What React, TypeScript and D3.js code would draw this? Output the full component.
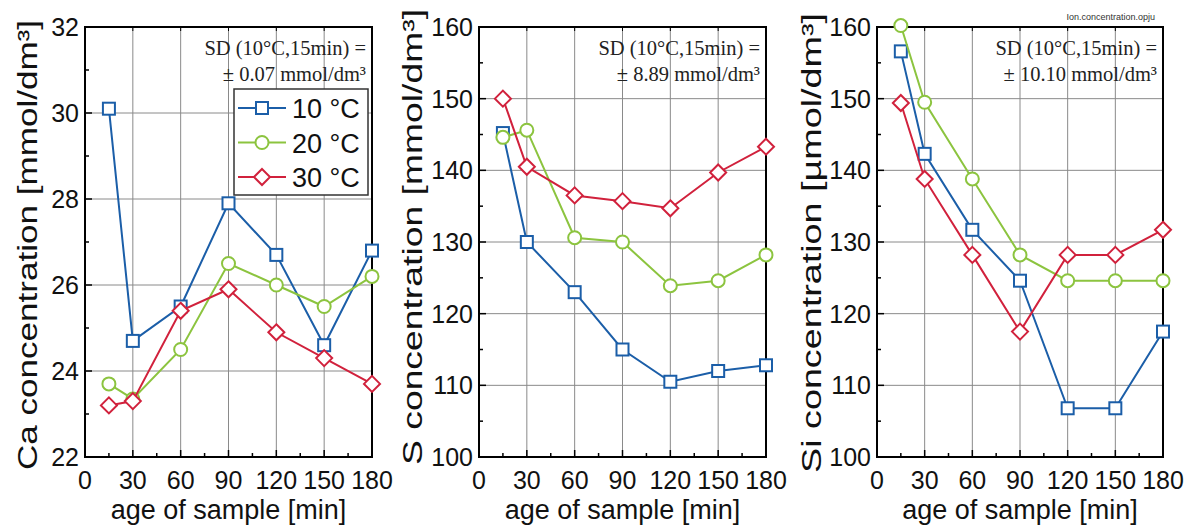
import React from "react";
import * as d3 from "d3";

const ages = [15, 30, 60, 90, 120, 150, 180];
const seriesNames = ["10 °C", "20 °C", "30 °C"];
const seriesColors = ["#1b5ea8", "#8cc43f", "#d1213c"];
const markerKinds = ["square", "circle", "diamond"];

const caT10 = [30.1, 24.7, 25.5, 27.9, 26.7, 24.6, 26.8];
const caT20 = [23.7, 23.35, 24.5, 26.5, 26.0, 25.5, 26.2];
const caT30 = [23.2, 23.3, 25.4, 25.9, 24.9, 24.3, 23.7];

const sT10 = [145.2, 130.0, 123.0, 115.0, 110.5, 112.0, 112.8];
const sT20 = [144.6, 145.6, 130.6, 130.0, 123.9, 124.6, 128.2];
const sT30 = [150.0, 140.5, 136.5, 135.7, 134.7, 139.7, 143.3];

const siT10 = [156.6, 142.3, 131.7, 124.6, 106.8, 106.8, 117.5];
const siT20 = [160.2, 149.5, 138.8, 128.2, 124.6, 124.6, 124.6];
const siT30 = [149.4, 138.8, 128.2, 117.5, 128.2, 128.2, 131.7];

const xTicks = [0, 30, 60, 90, 120, 150, 180];
const xMinorTicks = [15, 45, 75, 105, 135, 165];
const caTicks = [22, 24, 26, 28, 30, 32];
const caMinor = [23, 25, 27, 29, 31];
const sTicks = [100, 110, 120, 130, 140, 150, 160];
const sMinor = [105, 115, 125, 135, 145, 155];

const panels = [
  {
    left: 85, right: 372, yDomain: [22, 32], yTicks: caTicks, yMinor: caMinor,
    series: [caT10, caT20, caT30], yLabel: "Ca concentration [mmol/dm³]",
    labelX: 37, labelY: 245, labelLen: 450,
    sd: "± 0.07 mmol/dm³", legend: true,
  },
  {
    left: 479, right: 766, yDomain: [100, 160], yTicks: sTicks, yMinor: sMinor,
    series: [sT10, sT20, sT30], yLabel: "S concentration [mmol/dm³]",
    labelX: 422, labelY: 237, labelLen: 456,
    sd: "± 8.89 mmol/dm³", legend: false,
  },
  {
    left: 877, right: 1163, yDomain: [100, 160], yTicks: sTicks, yMinor: sMinor,
    series: [siT10, siT20, siT30], yLabel: "Si concentration [µmol/dm³]",
    labelX: 821, labelY: 243, labelLen: 460,
    sd: "± 10.10 mmol/dm³", legend: false,
  },
];

const TOP = 27;
const BOTTOM = 457;
const SANS = "Liberation Sans, Arial, sans-serif";
const SERIF = "Liberation Serif, Times New Roman, serif";

function Marker({ kind, x, y, color }: { kind: string; x: number; y: number; color: string }) {
  if (kind === "square") {
    return <rect x={x - 6} y={y - 6} width={12} height={12} fill="white" stroke={color} strokeWidth={2} />;
  }
  if (kind === "circle") {
    return <circle cx={x} cy={y} r={6.5} fill="white" stroke={color} strokeWidth={2} />;
  }
  const r = 8;
  return (
    <path d={`M${x},${y - r}L${x + r},${y}L${x},${y + r}L${x - r},${y}Z`} fill="white" stroke={color} strokeWidth={2} />
  );
}

function Panel({ p }: { p: (typeof panels)[number] }) {
  const x = d3.scaleLinear().domain([0, 180]).range([p.left, p.right]);
  const y = d3.scaleLinear().domain(p.yDomain).range([BOTTOM, TOP]);
  const line = d3
    .line<number>()
    .x((_, i) => x(ages[i]))
    .y((d) => y(d));
  return (
    <g>
      {xTicks.slice(1, -1).map((t) => (
        <line key={"gx" + t} x1={x(t)} x2={x(t)} y1={TOP} y2={BOTTOM} stroke="#8a8a8a" strokeWidth={1} />
      ))}
      {p.yTicks.slice(1, -1).map((t) => (
        <line key={"gy" + t} x1={p.left} x2={p.right} y1={y(t)} y2={y(t)} stroke="#8a8a8a" strokeWidth={1} />
      ))}
      {xMinorTicks.map((t) => (
        <line key={"mx" + t} x1={x(t)} x2={x(t)} y1={BOTTOM} y2={BOTTOM - 4} stroke="#000" strokeWidth={1.5} />
      ))}
      {xTicks.map((t) => (
        <line key={"Mx" + t} x1={x(t)} x2={x(t)} y1={BOTTOM} y2={BOTTOM - 7} stroke="#000" strokeWidth={1.5} />
      ))}
      {xTicks.map((t) => (
        <line key={"Tx" + t} x1={x(t)} x2={x(t)} y1={TOP} y2={TOP + 4} stroke="#000" strokeWidth={1} />
      ))}
      {p.yMinor.map((t) => (
        <line key={"my" + t} x1={p.left} x2={p.left + 4} y1={y(t)} y2={y(t)} stroke="#000" strokeWidth={1.5} />
      ))}
      {p.yTicks.map((t) => (
        <line key={"My" + t} x1={p.left} x2={p.left + 7} y1={y(t)} y2={y(t)} stroke="#000" strokeWidth={1.5} />
      ))}
      <rect x={p.left} y={TOP} width={p.right - p.left} height={BOTTOM - TOP} fill="none" stroke="#000" strokeWidth={2} />
      {xTicks.map((t) => (
        <text key={"lx" + t} x={x(t)} y={489} textAnchor="middle" fontFamily={SANS} fontSize={25} fill="#111">
          {t}
        </text>
      ))}
      {p.yTicks.map((t) => (
        <text key={"ly" + t} x={p.left - 6} y={y(t) + 9} textAnchor="end" fontFamily={SANS} fontSize={25} fill="#111">
          {t}
        </text>
      ))}
      <text x={(p.left + p.right) / 2} y={519} textAnchor="middle" fontFamily={SANS} fontSize={27} fill="#111">
        age of sample [min]
      </text>
      <text
        transform={`translate(${p.labelX},${p.labelY}) rotate(-90)`}
        textAnchor="middle"
        fontFamily={SANS}
        fontSize={27}
        textLength={p.labelLen}
        lengthAdjust="spacingAndGlyphs"
        fill="#111"
      >
        {p.yLabel}
      </text>
      <text x={p.right - 6} y={55} textAnchor="end" fontFamily={SERIF} fontSize={20.5} fill="#222">
        SD (10°C,15min) =
      </text>
      <text x={p.right - 6} y={81} textAnchor="end" fontFamily={SERIF} fontSize={20.5} fill="#222">
        {p.sd}
      </text>
      {p.series.map((s, si) => (
        <g key={"s" + si}>
          <path d={line(s) || ""} fill="none" stroke={seriesColors[si]} strokeWidth={2} />
          {s.map((v, i) => (
            <Marker key={i} kind={markerKinds[si]} x={x(ages[i])} y={y(v)} color={seriesColors[si]} />
          ))}
        </g>
      ))}
      {p.legend && (
        <g>
          <rect x={234} y={89} width={134} height={106} fill="white" stroke="#333" strokeWidth={1.5} />
          {seriesNames.map((n, i) => {
            const ly = 108 + i * 34.5;
            return (
              <g key={n}>
                <line x1={238} x2={286} y1={ly} y2={ly} stroke={seriesColors[i]} strokeWidth={2} />
                <Marker kind={markerKinds[i]} x={262} y={ly} color={seriesColors[i]} />
                <text x={292} y={ly + 10} fontFamily={SANS} fontSize={27} fill="#111">
                  {n}
                </text>
              </g>
            );
          })}
        </g>
      )}
    </g>
  );
}

export default function App() {
  return (
    <svg width={1192} height={526} style={{ position: "absolute", left: 0, top: 0, background: "white" }}>
      <rect width={1192} height={526} fill="white" />
      {panels.map((p, i) => (
        <Panel key={i} p={p} />
      ))}
      <text x={1155} y={20} textAnchor="end" fontFamily={SANS} fontSize={9} fill="#333">
        Ion.concentration.opju
      </text>
    </svg>
  );
}
